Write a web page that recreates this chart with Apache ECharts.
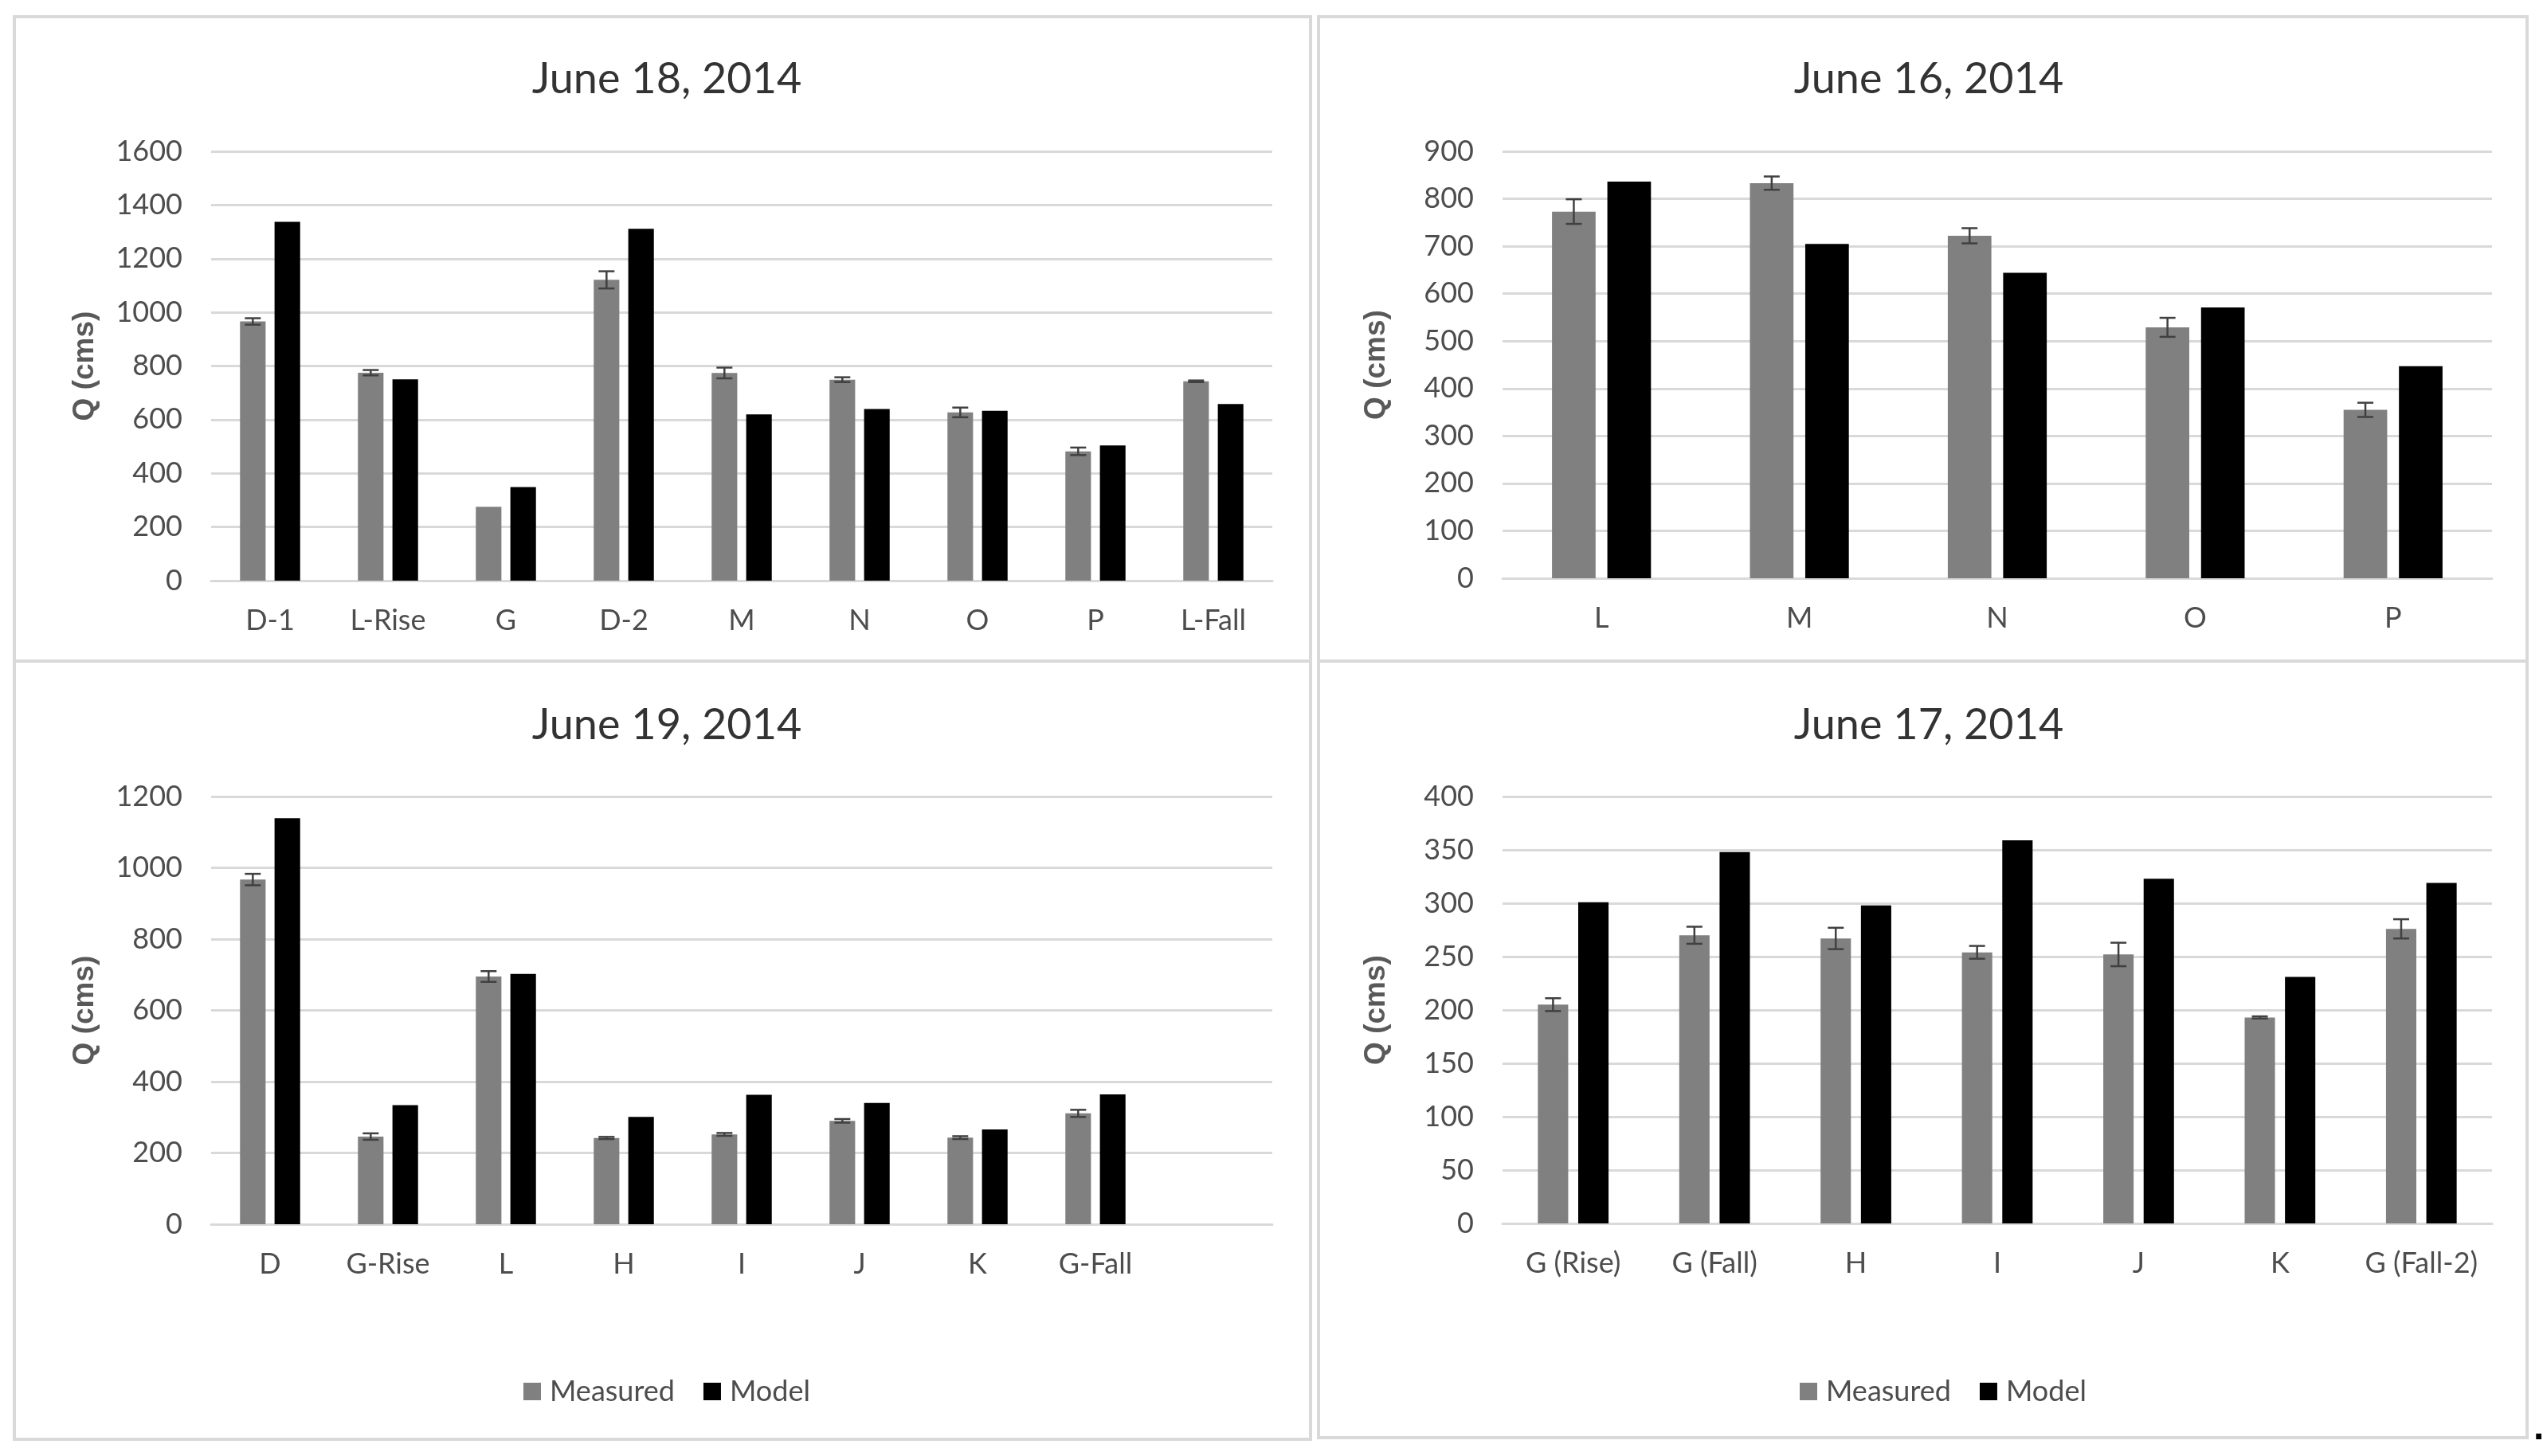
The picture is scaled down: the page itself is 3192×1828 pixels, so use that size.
<!DOCTYPE html>
<html>
<head>
<meta charset="utf-8">
<script src="https://cdn.jsdelivr.net/npm/echarts@6/dist/echarts.min.js"></script>
<style>
html,body{margin:0;padding:0;background:#fff;}
#c{width:3192px;height:1828px;}
</style>
</head>
<body>
<div id="c"></div>
<script>
// ---- Data ----
var cats18 = ['D-1','L-Rise','G','D-2','M','N','O','P','L-Fall'];
var measured18 = [966, 775, 275, 1121, 774, 749, 627, 482, 743];
var model18 = [1337, 750, 349, 1311, 620, 640, 633, 504, 658];
var err18 = [12, 10, 0, 32, 20, 9, 18, 14, 3];

var cats16 = ['L','M','N','O','P'];
var measured16 = [773, 833, 722, 529, 355];
var model16 = [836, 705, 644, 571, 447];
var err16 = [26, 14, 16, 20, 15];

var cats19 = ['D','G-Rise','L','H','I','J','K','G-Fall',''];
var measured19 = [967, 246, 695, 242, 252, 290, 243, 311];
var model19 = [1139, 334, 702, 301, 363, 340, 266, 364];
var err19 = [16, 9, 15, 3, 4, 5, 4, 10];

var cats17 = ['G (Rise)','G (Fall)','H','I','J','K','G (Fall-2)'];
var measured17 = [205, 270, 267, 254, 252, 193, 276];
var model17 = [301, 348, 298, 359, 323, 231, 319];
var err17 = [6, 8, 10, 6, 11, 1, 9];

var titles = ['June 18, 2014','June 16, 2014','June 19, 2014','June 17, 2014'];
var seriesNames = ['Measured','Model'];

// ---- Styling ----
var FONT = 'Lato, "Open Sans", "Liberation Sans", sans-serif';
var GRAY = '#808080', BLACK = '#000000', GRID = '#d9d9d9', TXT = '#4d4d4d';

var panels = [
  {cats: cats18, m: measured18, d: model18, e: err18, max: 1600, step: 200,
   grid: {left: 265, top: 190, width: 1332, height: 539}, bg: 0.35, cg: 0.49},
  {cats: cats16, m: measured16, d: model16, e: err16, max: 900, step: 100,
   grid: {left: 1886, top: 190, width: 1242, height: 536}, bg: 0.27, cg: 0.50},
  {cats: cats19, m: measured19, d: model19, e: err19, max: 1200, step: 200,
   grid: {left: 265, top: 1000, width: 1332, height: 537}, bg: 0.35, cg: 0.49},
  {cats: cats17, m: measured17, d: model17, e: err17, max: 400, step: 50,
   grid: {left: 1886, top: 1000, width: 1242, height: 536}, bg: 0.33, cg: 0.50}
];
var titlePos = [[832, 68], [2416, 68], [832, 879], [2416, 879]];

function errRenderer(bg, cg) {
  return function (params, api) {
    var idx = api.value(0);
    if (api.value(3) <= 0) return null;
    var base = api.coord([idx, api.value(1)]);
    var hiY = api.coord([idx, api.value(2)])[1];
    var band = api.size([1, 0])[0];
    var bw = band * (1 - cg) / (2 + bg);
    var cx = base[0] - bw * (1 + bg) / 2;
    var loY = base[1] + (base[1] - hiY);
    var st = {stroke: '#404040', lineWidth: 2.5};
    var h = 10;
    return {type: 'group', children: [
      {type: 'line', shape: {x1: cx, y1: hiY, x2: cx, y2: loY}, style: st},
      {type: 'line', shape: {x1: cx - h, y1: hiY, x2: cx + h, y2: hiY}, style: st},
      {type: 'line', shape: {x1: cx - h, y1: loY, x2: cx + h, y2: loY}, style: st}
    ]};
  };
}

var option = {
  backgroundColor: '#ffffff',
  animation: false,
  title: [], grid: [], xAxis: [], yAxis: [], series: [],
  legend: [],
  graphic: []
};

titles.forEach(function (t, i) {
  option.title.push({
    text: t, left: titlePos[i][0], top: titlePos[i][1], textAlign: 'center',
    textStyle: {fontFamily: FONT, fontSize: 54, fontWeight: 'normal', color: '#333333'}
  });
});

panels.forEach(function (p, i) {
  option.grid.push(p.grid);
  option.xAxis.push({
    type: 'category', gridIndex: i, data: p.cats,
    axisLine: {show: true, lineStyle: {color: GRID, width: 3}},
    axisTick: {show: false},
    axisLabel: {fontFamily: FONT, fontSize: 36, color: TXT, margin: 32, interval: 0}
  });
  option.yAxis.push({
    type: 'value', gridIndex: i, min: 0, max: p.max, interval: p.step,
    name: 'Q (cms)', nameLocation: 'middle', nameGap: 140, nameRotate: 90,
    nameTextStyle: {fontFamily: '"Liberation Sans", Arial, sans-serif', fontSize: 37, fontWeight: 'bold', color: '#595959'},
    axisLine: {show: false}, axisTick: {show: false},
    splitLine: {show: true, lineStyle: {color: GRID, width: 3}},
    axisLabel: {fontFamily: FONT, fontSize: 36, color: TXT, margin: 36,
      formatter: function (v) { return String(v); }}
  });
  option.series.push({
    name: seriesNames[0], type: 'bar', xAxisIndex: i, yAxisIndex: i,
    data: p.m, itemStyle: {color: GRAY},
    barGap: (p.bg * 100) + '%', barCategoryGap: (p.cg * 100) + '%'
  });
  option.series.push({
    name: seriesNames[1], type: 'bar', xAxisIndex: i, yAxisIndex: i,
    data: p.d, itemStyle: {color: BLACK},
    barGap: (p.bg * 100) + '%', barCategoryGap: (p.cg * 100) + '%'
  });
  option.series.push({
    name: 'err' + i, type: 'custom', xAxisIndex: i, yAxisIndex: i, z: 5,
    renderItem: errRenderer(p.bg, p.cg),
    encode: {x: 0, y: [1, 2]},
    data: p.m.map(function (v, k) { return [k, v, v + p.e[k], p.e[k]]; })
  });
});

[652, 2254].forEach(function (lx) {
  option.legend.push({
    data: seriesNames, left: lx, top: 1724, orient: 'horizontal',
    icon: 'rect', itemWidth: 22, itemHeight: 22, itemGap: 36,
    textStyle: {fontFamily: FONT, fontSize: 36, color: TXT, padding: [0, 0, 0, 6]},
    selectedMode: false
  });
});

var borders = [[18, 21, 1627, 809], [1655, 21, 1517, 809], [18, 830, 1627, 977], [1655, 830, 1517, 975]];
borders.forEach(function (b) {
  option.graphic.push({type: 'rect', shape: {x: b[0], y: b[1], width: b[2], height: b[3]},
    style: {fill: 'none', stroke: GRID, lineWidth: 4}, silent: true, z: -1});
});
option.graphic.push({type: 'text', left: 3180, top: 1770,
  style: {text: '.', fontSize: 48, fontWeight: 'bold', fill: '#000', font: 'bold 48px "Liberation Sans"'}});

var chart = echarts.init(document.getElementById('c'), null, {renderer: 'canvas'});
chart.setOption(option);
</script>
</body>
</html>
